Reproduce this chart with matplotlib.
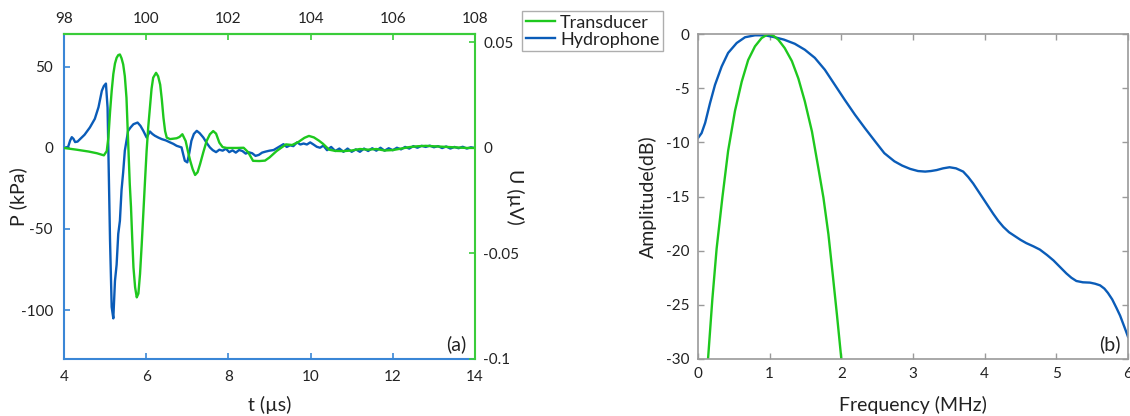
import matplotlib
matplotlib.use("Agg")
import matplotlib.pyplot as plt

plt.rcParams['font.family'] = ['Lato', 'DejaVu Sans']
plt.rcParams['axes.unicode_minus'] = False

# ---------------- data: panel (a) ----------------
hyd_t = [4.0, 4.1, 4.15, 4.19, 4.23, 4.27, 4.33, 4.39, 4.5, 4.63, 4.75, 4.84, 4.92, 4.97, 5.02,
         5.06, 5.09, 5.12, 5.16, 5.2, 5.24, 5.28, 5.32, 5.36, 5.4, 5.44, 5.48, 5.56, 5.62, 5.69, 5.79,
         5.86, 5.93, 6.01, 6.09, 6.15, 6.21, 6.3, 6.38, 6.48, 6.58, 6.66, 6.74, 6.86, 6.9, 6.94, 7.0,
         7.05, 7.1, 7.16, 7.23, 7.3, 7.39, 7.47, 7.55, 7.62, 7.7, 7.78, 7.86, 7.94, 8.02, 8.1, 8.18, 8.26,
         8.34, 8.42, 8.5, 8.58, 8.66, 8.74, 8.82, 8.9, 9.0, 9.1, 9.18, 9.26, 9.34, 9.42, 9.5,
         9.58, 9.67, 9.75, 9.83, 9.91, 9.99, 10.07, 10.15, 10.23, 10.31, 10.4, 10.5, 10.6, 10.7,
         10.8, 10.9, 11.0, 11.1, 11.2, 11.3, 11.4, 11.5, 11.6, 11.7, 11.8, 11.9, 12.0, 12.1,
         12.2, 12.3, 12.4, 12.5, 12.6, 12.7, 12.8, 12.9, 13.0, 13.1, 13.2, 13.3, 13.4, 13.5,
         13.6, 13.7, 13.8, 13.9, 14.0]
hyd_p = [0.0, 0.5, 4.5, 6.5, 5.5, 3.5, 3.8, 5.3, 8.0, 12.5, 17.8, 25.0, 35.0, 38.0, 39.5,
         24.7, -16.0, -57.0, -98.0, -105.0, -82.0, -72.0, -53.0, -45.0, -26.0, -15.0, -1.8, 10.4, 12.5, 14.5, 15.5,
         13.5, 10.4, 6.3, 10.0, 8.5, 7.4, 6.2, 5.3, 4.5, 3.3, 2.4, 1.2, 0.2, -4.0, -8.0, -9.0,
         -3.0, 4.3, 8.5, 10.4, 9.0, 6.3, 3.0, 0.2, -1.5, -2.7, -1.2, -1.8, -0.6, -2.7, -1.6, -3.0, -1.4,
         -2.0, -3.6, -2.8, -3.4, -5.0, -4.4, -3.0, -2.4, -1.8, -1.4, -0.2, 1.0, 2.2, 0.5, 1.5,
         1.0, 3.3, 2.0, 2.6, 2.0, 3.3, 2.0, 0.6, 0.0, 1.3, -1.5, 0.5, -2.0, -0.5,
         -2.5, -0.5, -2.5, -1.0, -2.5, -0.5, -2.0, -0.3, -1.8, 0.0, -1.8, -0.3, -1.5, 0.0,
         -1.0, 0.5, -0.5, 1.0, 0.0, 1.2, 0.5, 1.3, 0.3, 1.0, -0.2, 0.8, -0.5, 0.5,
         -0.3, 0.6, -0.5, 0.3, -0.2]

tra_t = [4.0, 4.3, 4.6, 4.8, 4.97, 5.04, 5.08, 5.12, 5.16, 5.2, 5.24, 5.28, 5.32, 5.36, 5.4, 5.44,
         5.48, 5.52, 5.56, 5.6, 5.63, 5.66, 5.69, 5.73, 5.77, 5.81, 5.85, 5.89, 5.93, 5.97, 6.01,
         6.05, 6.09, 6.13, 6.17, 6.24, 6.29, 6.34, 6.38, 6.42, 6.46, 6.5, 6.58, 6.66, 6.74, 6.81,
         6.88, 6.96, 7.02, 7.07, 7.13, 7.19, 7.25, 7.31, 7.39, 7.47, 7.55, 7.63, 7.7, 7.78,
         7.86, 7.96, 8.2, 8.37, 8.48, 8.6, 8.75, 8.89, 9.0, 9.17, 9.4, 9.55, 9.7, 9.85, 9.96,
         10.08, 10.2, 10.3, 10.45, 10.6, 10.8, 11.0, 11.2, 11.4, 11.6, 11.8, 12.0, 12.2, 12.4,
         12.6, 12.8, 13.0, 13.2, 13.5, 13.8, 14.0]
tra_u = [0.0, -0.0008, -0.0017, -0.0025, -0.0035, -0.0015, 0.005, 0.017, 0.027, 0.035, 0.040, 0.0427, 0.0440, 0.0443, 0.0425, 0.0396,
         0.034, 0.0238, 0.0033, -0.017, -0.028, -0.043, -0.0566, -0.066, -0.0708, -0.0690, -0.0597, -0.046, -0.031, -0.016, -0.0014,
         0.010, 0.019, 0.028, 0.0333, 0.0356, 0.034, 0.030, 0.023, 0.0143, 0.008, 0.0049, 0.0042, 0.0044, 0.0046, 0.0052,
         0.0065, 0.0033, -0.002, -0.006, -0.010, -0.0128, -0.0115, -0.0077, -0.002, 0.0033, 0.0065, 0.008, 0.0068, 0.0025,
         0.0004, 0.0, 0.0, 0.0001, -0.002, -0.0061, -0.0062, -0.0060, -0.0045, -0.0015, 0.0017, 0.0014, 0.0028, 0.0048, 0.0057,
         0.005, 0.0035, 0.002, -0.0008, -0.0014, -0.0015, -0.0012, -0.0005, -0.0008, -0.0005, -0.0012, -0.0010, -0.0003, 0.0004,
         0.0008, 0.0010, 0.0008, 0.0006, 0.0003, 0.0, 0.0]

# ---------------- data: panel (b) ----------------
hyd_f = [0.0, 0.05, 0.1, 0.167, 0.237, 0.33, 0.42, 0.54, 0.656, 0.795, 0.934, 1.07, 1.2, 1.35,
         1.49, 1.63, 1.77, 1.91, 2.05, 2.19, 2.33, 2.47, 2.6, 2.74, 2.85, 2.96, 3.07, 3.17, 3.25,
         3.33, 3.42, 3.51, 3.6, 3.7, 3.77, 3.84, 3.91, 3.98, 4.05, 4.12, 4.19, 4.26, 4.34,
         4.42, 4.5, 4.58, 4.68, 4.77, 4.87, 4.96, 5.05, 5.14, 5.21, 5.28, 5.37, 5.47, 5.54,
         5.61, 5.67, 5.72, 5.78, 5.84, 5.89, 5.93, 5.97, 6.0]
hyd_db = [-9.6, -9.15, -8.2, -6.4, -4.7, -3.0, -1.75, -0.83, -0.3, -0.12, -0.12, -0.3, -0.52, -0.9,
          -1.45, -2.2, -3.3, -4.7, -6.1, -7.45, -8.7, -9.9, -11.0, -11.75, -12.15, -12.45, -12.65, -12.7, -12.65,
          -12.56, -12.4, -12.3, -12.4, -12.7, -13.2, -13.8, -14.5, -15.2, -15.9, -16.6, -17.25, -17.8, -18.3,
          -18.65, -19.0, -19.3, -19.6, -19.9, -20.4, -20.9, -21.5, -22.1, -22.5, -22.8, -22.92, -22.95, -23.05,
          -23.2, -23.5, -23.9, -24.5, -25.3, -26.0, -26.7, -27.4, -27.95]

tra_f = [0.14, 0.2, 0.26, 0.34, 0.42, 0.516, 0.61, 0.7, 0.795, 0.888, 0.98, 1.05, 1.12, 1.21,
         1.31, 1.4, 1.49, 1.59, 1.68, 1.75, 1.82, 1.88, 1.94, 2.0]
tra_db = [-30.0, -24.5, -19.8, -15.1, -10.8, -7.1, -4.4, -2.4, -1.14, -0.37, 0.0, -0.15, -0.52, -1.3,
          -2.5, -4.1, -6.2, -9.0, -12.4, -15.1, -18.5, -22.2, -26.0, -30.0]

# ---------------- styling ----------------
BLUE = '#0a5cb8'
GREEN = '#1ec81e'
BLUE_SP = '#3a86d6'
GREEN_SP = '#3acc3a'
GRAY = '#9a9a9a'
TXT = '#222222'
TICK_FS = 11
LAB_FS = 14

fig = plt.figure(figsize=(11.3, 4.16), dpi=100)

# ---------- panel (a) ----------
W, H = 1130.0, 416.0
ax1 = fig.add_axes([64 / W, 1 - 359 / H, 411 / W, 325 / H])
ax2 = ax1.twinx()

ln_h, = ax1.plot(hyd_t, hyd_p, color=BLUE, lw=1.7)
ln_t, = ax2.plot(tra_t, tra_u, color=GREEN, lw=1.7)

ax1.set_xlim(4, 14)
ax1.set_ylim(-130, 70)
ax1.set_xticks([4, 6, 8, 10, 12, 14])
ax1.set_yticks([-100, -50, 0, 50])
ax2.set_ylim(-0.1, 0.054)
ax2.set_yticks([-0.1, -0.05, 0, 0.05])
ax2.set_yticklabels(['-0.1', '-0.05', '0', '0.05'])

ax1.spines['top'].set_visible(False)
ax1.spines['right'].set_visible(False)
ax2.spines['left'].set_visible(False)
ax2.spines['bottom'].set_visible(False)
ax1.spines['left'].set_color(BLUE_SP)
ax1.spines['bottom'].set_color(BLUE_SP)
ax2.spines['right'].set_color(GREEN_SP)
ax2.spines['top'].set_color(GREEN_SP)
for sp in list(ax1.spines.values()) + list(ax2.spines.values()):
    sp.set_linewidth(1.5)

ax1.tick_params(axis='both', direction='in', length=4, width=1.2, color=BLUE_SP,
                labelsize=TICK_FS, labelcolor=TXT, pad=8)
ax2.tick_params(axis='y', direction='in', length=4, width=1.2, color=GREEN_SP,
                labelsize=TICK_FS, labelcolor=TXT, pad=6)

secx = ax1.secondary_xaxis('top', functions=(lambda x: x + 94, lambda x: x - 94))
secx.set_xticks([98, 100, 102, 104, 106, 108])
secx.tick_params(direction='in', length=4, width=1.2, color=GREEN_SP,
                 labelsize=TICK_FS, labelcolor=TXT, pad=6)
secx.spines['top'].set_color(GREEN_SP)
secx.spines['top'].set_linewidth(1.5)

ax1.set_xlabel('t (µs)', fontsize=LAB_FS, color=TXT, va='center')
ax1.xaxis.set_label_coords(0.5, -0.142)
ax1.set_ylabel('P (kPa)', fontsize=LAB_FS, color=TXT, va='center')
ax1.yaxis.set_label_coords(-0.112, 0.5)
ax2.set_ylabel('U (µV)', fontsize=LAB_FS, color=TXT, rotation=-90, va='center')
ax2.yaxis.set_label_coords(1.097, 0.5)
ax1.text(0.955, 0.045, '(a)', transform=ax1.transAxes, fontsize=LAB_FS, color=TXT,
         ha='center', va='center')

# ---------- panel (b) ----------
ax3 = fig.add_axes([698 / W, 1 - 359 / H, 430 / W, 325 / H])
ax3.plot(hyd_f, hyd_db, color=BLUE, lw=1.7)
ax3.plot(tra_f, tra_db, color=GREEN, lw=1.7)
ax3.set_xlim(0, 6)
ax3.set_ylim(-30, 0)
ax3.set_xticks([0, 1, 2, 3, 4, 5, 6])
ax3.set_yticks([-30, -25, -20, -15, -10, -5, 0])
for sp in ax3.spines.values():
    sp.set_color(GRAY)
    sp.set_linewidth(1.2)
ax3.tick_params(axis='both', direction='in', length=4, width=1.0, color=GRAY,
                labelsize=TICK_FS, labelcolor=TXT, top=True, right=True, pad=6)
ax3.set_xlabel('Frequency (MHz)', fontsize=LAB_FS, color=TXT, va='center')
ax3.xaxis.set_label_coords(0.5, -0.142)
ax3.set_ylabel('Amplitude(dB)', fontsize=LAB_FS, color=TXT, va='center')
ax3.yaxis.set_label_coords(-0.116, 0.5)
ax3.text(0.958, 0.045, '(b)', transform=ax3.transAxes, fontsize=LAB_FS, color=TXT,
         ha='center', va='center')

# ---------- legend ----------
leg = fig.legend([ln_t, ln_h], ['Transducer', 'Hydrophone'], loc='upper left',
                 bbox_to_anchor=(522 / W, 1 - 11 / H), fontsize=13, frameon=True,
                 fancybox=False, handlelength=1.6, handletextpad=0.3, borderpad=0.2,
                 labelspacing=0.05, borderaxespad=0)
leg.get_frame().set_edgecolor(GRAY)
leg.get_frame().set_linewidth(1.0)
for txt in leg.get_texts():
    txt.set_color(TXT)

fig.savefig('out.png', dpi=100)
